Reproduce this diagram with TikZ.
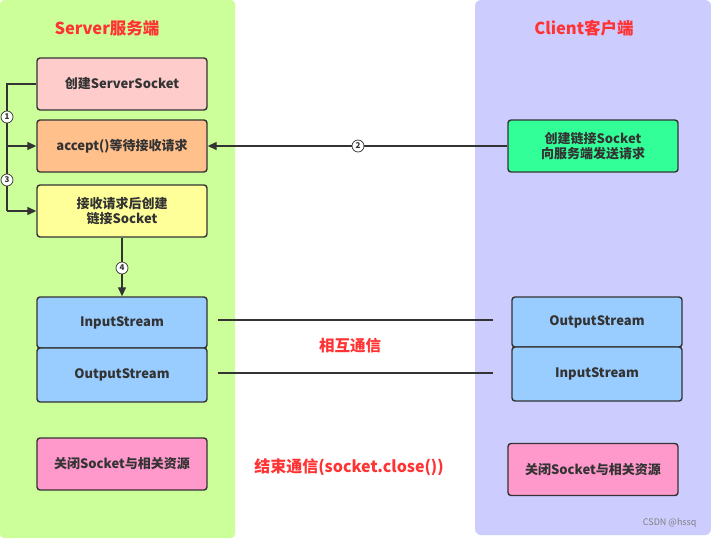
\documentclass[tikz,border=0pt]{standalone}
\usepackage{fontspec}
\setmainfont{Noto Sans CJK SC}
\usetikzlibrary{arrows.meta}
\definecolor{panelG}{HTML}{CCFF99}
\definecolor{panelB}{HTML}{CCCCFF}
\definecolor{fPink}{HTML}{FFCCCC}
\definecolor{fOrange}{HTML}{FFC08C}
\definecolor{fYellow}{HTML}{FFFF99}
\definecolor{fGreen}{HTML}{33FF99}
\definecolor{fBlue}{HTML}{99CCFF}
\definecolor{fRose}{HTML}{FF99CC}
\definecolor{txt}{HTML}{333333}
\definecolor{redtxt}{HTML}{FF3333}
\tikzset{
  box/.style={draw=txt, line width=1.4pt, rounded corners=3pt, minimum width=170pt, minimum height=52pt, inner sep=0pt, text=txt, font=\fontsize{13}{15.5}\selectfont\bfseries, align=center},
  conn/.style={draw=txt, line width=1.3pt},
  arr/.style={conn, -{Triangle[length=9pt,width=8pt]}},
  num/.style={circle, draw=txt, fill=white, line width=0.7pt, inner sep=0.5pt, minimum size=12pt, font=\fontsize{8}{8}\selectfont\bfseries, text=txt},
  title/.style={text=redtxt, font=\fontsize{16.5}{19}\selectfont\bfseries},
  lbl/.style={text=redtxt, font=\fontsize{16}{18}\selectfont\bfseries},
}
\begin{document}
\begin{tikzpicture}[x=1pt,y=-1pt]
\useasboundingbox (0,0) rectangle (711,538);
\fill[white] (0,0) rectangle (711,538);
\fill[panelG, rounded corners=4pt] (0,0) rectangle (235,538);
\fill[panelB, rounded corners=6pt] (475,0) rectangle (711,535);

\node[title] (ts) at (107,28) {Server服务端};
\node[title] (tc) at (584,28) {Client客户端};

\node[box, fill=fPink]   (ss)  at (122,84)  {创建ServerSocket};
\node[box, fill=fOrange] (acc) at (122,146) {accept()等待接收请求};
\node[box, fill=fYellow] (crt) at (122,211) {接收请求后创建\\链接Socket};
\node[box, fill=fBlue, minimum height=51pt] (sin)  at (122,322.5) {InputStream};
\node[box, fill=fBlue, minimum height=54pt] (sout) at (122,375) {OutputStream};
\node[box, fill=fRose]   (scl) at (122,464) {关闭Socket与相关资源};

\node[box, fill=fGreen] (req) at (593,146) {创建链接Socket\\向服务端发送请求};
\node[box, fill=fBlue, minimum height=50pt] (cout) at (597,322) {OutputStream};
\node[box, fill=fBlue, minimum height=54pt] (cin)  at (597,374) {InputStream};
\node[box, fill=fRose] (ccl) at (593,469.5) {关闭Socket与相关资源};

% step 1 and 3
\coordinate (l1) at (7,84);
\coordinate (l2) at (7,146);
\coordinate (l3) at (7,211);
\draw[conn] (ss.west) -- (l1) -- (l3);
\draw[arr] (l2) -- (acc.west);
\draw[arr] (l3) -- (crt.west);
\node[num] (n1) at (7,117) {1};
\node[num] (n3) at (7,180) {3};

% step 2
\draw[arr] (req.west) -- (acc.east);
\node[num] (n2) at (358,146) {2};

% step 4
\draw[arr] (crt.south) -- (sin.north);
\node[num] (n4) at (122,268) {4};

% communication lines
\coordinate (a1) at (218,320);
\coordinate (a2) at (493,320);
\coordinate (b1) at (218,373);
\coordinate (b2) at (493,373);
\draw[conn] (a1) -- (a2);
\draw[conn] (b1) -- (b2);

\node[lbl, font=\fontsize{15.5}{18}\selectfont\bfseries] (comm) at (350,346) {相互通信};
\node[lbl] (end) at (349,467) {结束通信(socket.close())};

\node[text=gray, font=\fontsize{9}{10}\selectfont, anchor=east] (csdn) at (700,523) {CSDN @hssq};
\end{tikzpicture}
\end{document}
